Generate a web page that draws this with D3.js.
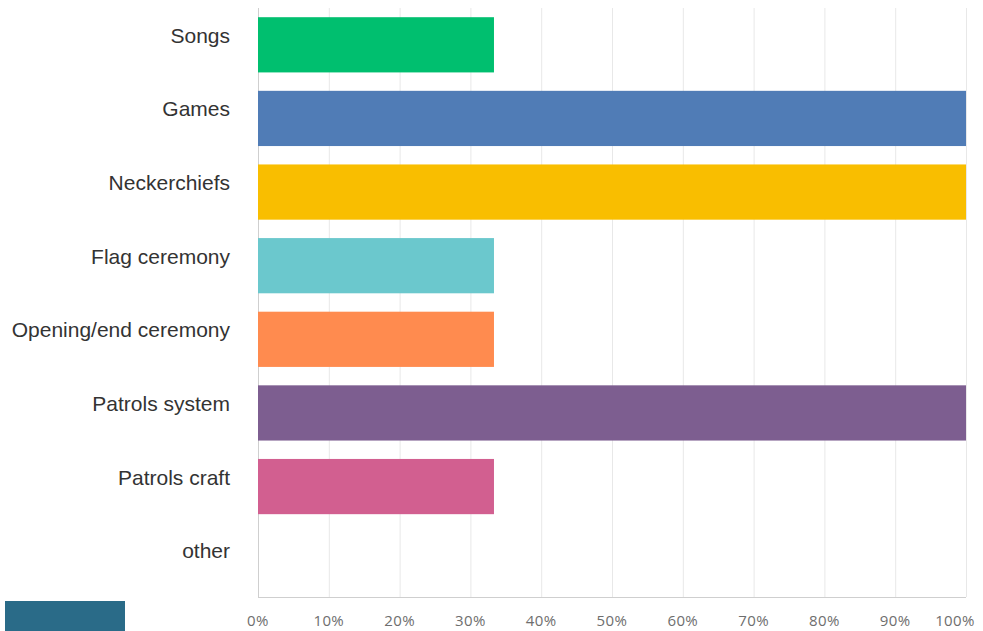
<!DOCTYPE html>
<html>
<head>
<meta charset="utf-8">
<script src="https://cdn.jsdelivr.net/npm/d3@7"></script>
<style>
  body { margin: 0; background: #fff; }
  .cat text { font-family: "Liberation Sans", Arial, sans-serif; font-size: 21px; fill: #333; }
  .xaxis text { font-family: "Open Sans", sans-serif; font-size: 15px; fill: #6e6e6e; letter-spacing: 0.4px; }
</style>
</head>
<body>
<svg id="chart" width="983" height="631"></svg>
<script>
const categories = ["Songs", "Games", "Neckerchiefs", "Flag ceremony", "Opening/end ceremony", "Patrols system", "Patrols craft", "other"]
const values = [33.33, 100, 100, 33.33, 33.33, 100, 33.33, 0]
const colors = ["#00bf6f", "#507cb6", "#f9be00", "#6bc8cd", "#ff8b4f", "#7d5e90", "#d25f90", "#999999"]
const ticks = [0, 10, 20, 30, 40, 50, 60, 70, 80, 90, 100]

const svg = d3.select("#chart")
const plotLeft = 258, plotRight = 966, plotTop = 8, plotBottom = 597

const x = d3.scaleLinear().domain([0, 100]).range([plotLeft, plotRight])
const y = d3.scaleBand().domain(categories).range([plotTop, plotBottom])
  .paddingInner(0.25).paddingOuter(0.125)

// gridlines
svg.append("g").selectAll("line").data(ticks).join("line")
  .attr("x1", d => x(d) + 0.5).attr("x2", d => x(d) + 0.5)
  .attr("y1", plotTop).attr("y2", plotBottom)
  .attr("stroke", d => d == 0 ? "#cfcfcf" : "#e8e8e8")
  .attr("stroke-width", 1)
svg.append("line")
  .attr("x1", plotLeft).attr("x2", plotRight)
  .attr("y1", plotBottom + 0.5).attr("y2", plotBottom + 0.5)
  .attr("stroke", "#cfcfcf")

// bars
svg.append("g").selectAll("rect").data(categories).join("rect")
  .attr("x", x(0))
  .attr("y", d => y(d))
  .attr("width", (d, i) => x(values[i]) - x(0))
  .attr("height", y.bandwidth())
  .attr("fill", (d, i) => colors[i])

// category labels
svg.append("g").classed("cat", true)
  .selectAll("text").data(categories).join("text")
    .attr("x", 230)
    .attr("y", d => y(d) + y.bandwidth() / 2 - 2)
    .attr("text-anchor", "end")
    .text(d => d)

// x axis labels (last one pulled in so it stays on the page)
svg.append("g").classed("xaxis", true)
  .selectAll("text").data(ticks).join("text")
    .attr("x", d => d == 100 ? x(d) - 11 : x(d))
    .attr("y", 626)
    .attr("text-anchor", "middle")
    .text(d => d + "%")

// teal block at bottom left
svg.append("rect")
  .attr("x", 5).attr("y", 601)
  .attr("width", 120).attr("height", 30)
  .attr("fill", "#2a6b88")
</script>
</body>
</html>
